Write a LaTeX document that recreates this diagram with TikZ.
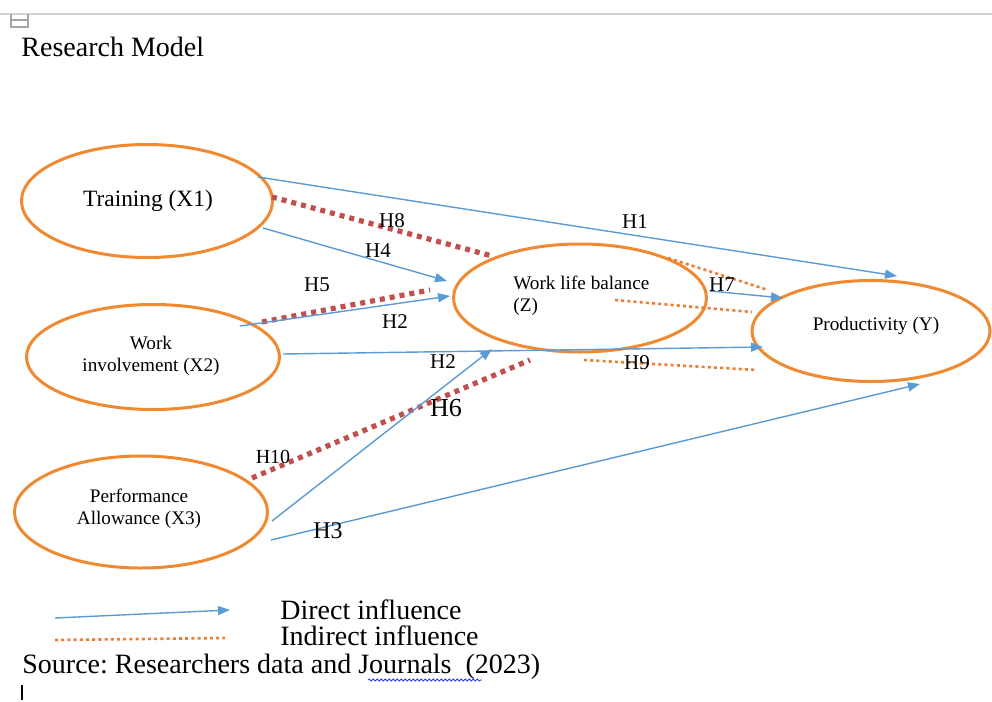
\documentclass[tikz,border=0pt]{standalone}
\usepackage{fontspec}
\setmainfont{Liberation Serif}
\frenchspacing
\usetikzlibrary{shapes.geometric,arrows.meta,decorations.pathmorphing}
\definecolor{obox}{HTML}{F08A32}
\definecolor{blarrow}{HTML}{5B9BD5}
\definecolor{odot}{HTML}{ED7D31}
\definecolor{rdot}{HTML}{C0504D}
\begin{document}
\begin{tikzpicture}[x=0.5pt,y=-0.5pt,
 var/.style={draw=obox,line width=1.5pt,ellipse,inner sep=0pt},
 lbl/.style={inner sep=0pt,font=\fontsize{9.6}{11}\selectfont},
 hyp/.style={inner sep=0pt,font=\fontsize{10.5}{12}\selectfont},
 direct/.style={draw=blarrow,line width=0.7pt,-{Triangle[length=6pt,width=4.5pt]}},
 indirect/.style={draw=odot,line width=1.3pt,dash pattern=on 1.5pt off 1.6pt},
 strong/.style={draw=rdot,line width=2.6pt,dash pattern=on 2.5pt off 2.5pt},
 txt/.style={inner sep=0pt,anchor=west,font=\fontsize{14}{16}\selectfont\frenchspacing}]
\useasboundingbox (0,0) rectangle (992,702);
\fill[white] (0,0) rectangle (992,702);
% page header line and anchor icon
\draw[gray!35,line width=0.6pt] (0,14) -- (992,14);
\draw[gray!70,line width=0.6pt] (11,14) -- (11,27) -- (28,27) -- (28,14) (11,20) -- (28,20);
\node[txt] (title) at (21,47) {Research Model};
% variables
\node[var,minimum width=125.5pt,minimum height=56.5pt] (x1) at (147,201) {};
\node[var,minimum width=126.5pt,minimum height=52.5pt] (x2) at (153,357) {};
\node[var,minimum width=126.5pt,minimum height=56pt] (x3) at (141,512) {};
\node[var,minimum width=126.5pt,minimum height=54pt] (z) at (580,298) {};
\node[var,minimum width=119pt,minimum height=50.5pt] (y) at (871,331) {};
\node[lbl,font=\fontsize{11.7}{13}\selectfont] (tx1) at (148,201) {Training (X1)};
\node[lbl,align=center] (tx2) at (151,356) {Work\\ involvement (X2)};
\node[lbl,align=center] (tx3) at (139,509) {Performance\\ Allowance (X3)};
\node[lbl,align=left,anchor=north west] (tz) at (513,276) {Work life balance\\ (Z)};
\node[lbl] (ty) at (876,326) {Productivity (Y)};
% endpoints
\coordinate (a1) at (258,177); \coordinate (b1) at (897,276);
\coordinate (a4) at (263,228); \coordinate (b4) at (447,281);
\coordinate (a2) at (240,326); \coordinate (b2) at (450,296);
\coordinate (a2y) at (283,354); \coordinate (b2y) at (763,347);
\coordinate (a6) at (272,521); \coordinate (b6) at (492,349);
\coordinate (a3) at (271,540); \coordinate (b3) at (920,384);
\coordinate (a7) at (710,291); \coordinate (b7) at (783,298);
\coordinate (c1) at (668,258); \coordinate (d1) at (768,290);
\coordinate (c2) at (615,300); \coordinate (d2) at (752,312);
\coordinate (c9) at (584,360); \coordinate (d9) at (757,370);
\coordinate (r8a) at (272,197); \coordinate (r8b) at (492,256);
\coordinate (r5a) at (262,322); \coordinate (r5b) at (430,290);
\coordinate (r10a) at (252,478); \coordinate (r10b) at (530,360);
% indirect (dotted) paths
\draw[strong] (r8a) -- (r8b);
\draw[strong] (r5a) -- (r5b);
\draw[strong] (r10a) -- (r10b);
\draw[indirect] (c1) -- (d1);
\draw[indirect] (c2) -- (d2);
\draw[indirect] (c9) -- (d9);
% direct arrows
\draw[direct] (a1) -- (b1);
\draw[direct] (a4) -- (b4);
\draw[direct] (a2) -- (b2);
\draw[direct] (a2y) -- (b2y);
\draw[direct] (a6) -- (b6);
\draw[direct] (a3) -- (b3);
\draw[direct] (a7) -- (b7);
% hypothesis labels
\node[hyp] (h1) at (635,222) {H1};
\node[hyp] (h8) at (392,221) {H8};
\node[hyp] (h4) at (378,251) {H4};
\node[hyp] (h5) at (317,285) {H5};
\node[hyp] (h2a) at (395,322) {H2};
\node[hyp] (h2b) at (443,362) {H2};
\node[hyp] (h7) at (722,285) {H7};
\node[hyp] (h9) at (637,363) {H9};
\node[hyp,font=\fontsize{10}{12}\selectfont] (h10) at (273,457) {H10};
\node[hyp,font=\fontsize{13}{15}\selectfont] (h6) at (446,408) {H6};
\node[hyp,font=\fontsize{12}{14}\selectfont] (h3) at (328,531) {H3};
% legend
\coordinate (lgA) at (55,618); \coordinate (lgB) at (230,610);
\coordinate (lgC) at (55,640); \coordinate (lgD) at (225,638);
\draw[direct] (lgA) -- (lgB);
\draw[indirect] (lgC) -- (lgD);
\node[txt] (ld) at (280,610) {Direct influence};
\node[txt] (li) at (280,636) {Indirect influence};
\node[txt] (src) at (22,667) {Source: Researchers data and Journals\ \ (2023)};
\draw[blue!80,line width=0.4pt,decorate,decoration={snake,amplitude=0.5pt,segment length=2pt}] (368,680) -- (482,680);
\draw[black,line width=0.8pt] (22,685) -- (22,700);
\end{tikzpicture}
\end{document}
